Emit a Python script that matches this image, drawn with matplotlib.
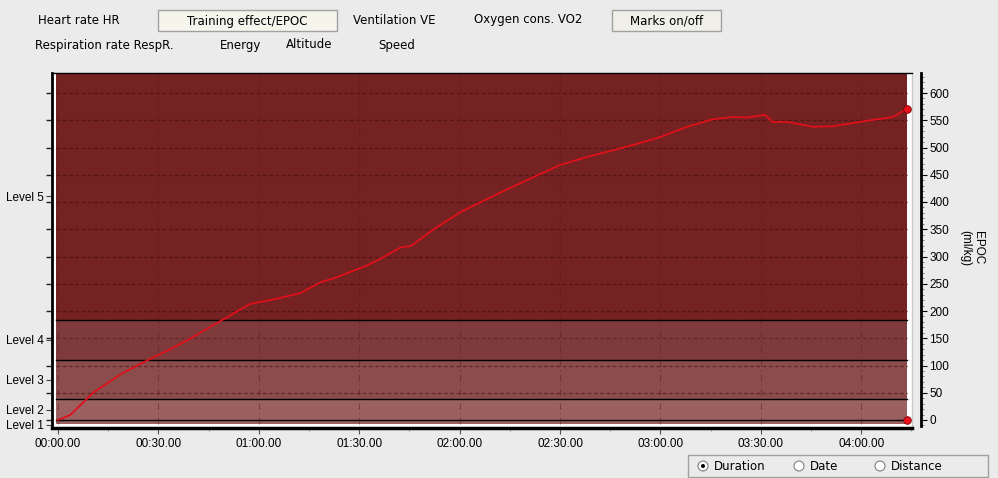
import matplotlib.pyplot as plt
from matplotlib.patches import Rectangle, Circle
from matplotlib.transforms import IdentityTransform
from matplotlib.ticker import MultipleLocator, FuncFormatter

# EPOC curve, time in minutes, EPOC in ml/kg
minutes = [0, 3.6, 10.5, 19, 27.5, 33, 39.4, 47.5, 57.4, 65, 72.5, 78.5, 82.4, 92.5,
           97, 102.4, 105.4, 112.3, 120.4, 132.4, 142.2, 150.0, 158.3, 165.9, 172,
           179.9, 188, 195.7, 201.7, 206, 211.3, 213.4, 217.9, 225.6, 231.6, 241.7,
           249.5, 253.7]
epoc = [0, 9, 50, 85, 112, 128, 149, 178, 213, 222, 233, 253, 260, 284,
        298, 317, 319, 350, 382, 418, 446, 468, 483, 495, 505,
        519, 538, 552, 556, 555, 560, 547, 547, 538, 539, 549,
        556, 571]

# training effect level bands (EPOC boundaries)
band_edges = [-7.3, 38.5, 110, 183.5, 635]
band_colors = ['#9b6161', '#8b4c4c', '#7f3b3b', '#742222']
band_lines = [0, 38.5, 110, 183.5]
level_names = ['Level 1', 'Level 2', 'Level 3', 'Level 4', 'Level 5']
level_pos = [-9, 19, 74, 147, 411]

x_ticks = [0, 30, 60, 90, 120, 150, 180, 210, 240]

top_row1 = [('Heart rate HR', 38), ('Ventilation VE', 353), ('Oxygen cons. VO2', 474)]
top_row2 = [('Respiration rate RespR.', 35), ('Energy', 220), ('Altitude', 286), ('Speed', 378)]
buttons = [('Training effect/EPOC', 158, 337, '#f5f5ec'), ('Marks on/off', 612, 721, '#f0f0e8')]
radios = [('Duration', 703, True), ('Date', 799, False), ('Distance', 880, False)]

W, H = 998, 478
bg = '#ebebeb'
plt.rcParams['font.family'] = ['Liberation Sans', 'DejaVu Sans']

fig = plt.figure(figsize=(W / 100, H / 100), dpi=100, facecolor=bg)


def fx(px):
    return px / W


def fy(py):
    return 1 - py / H


# main axes box in pixels: left 52, right 912, top 73, bottom 428
L, R, T, B = 52, 912, 73, 428
px_per_min = 100.4 / 30
xmin = -(58 - L) / px_per_min
xmax = xmin + (R - L) / px_per_min
ypx = 27.25 / 50
ymax = (420 - T) / ypx
ymin = (420 - B) / ypx

ax = fig.add_axes([fx(L), fy(B), fx(R - L), (B - T) / H])
ax.set_facecolor('white')
ax.set_xlim(xmin, xmax)
ax.set_ylim(ymin, ymax)

x0 = (56 - L) / (R - L)
x1 = (907 - L) / (R - L)
for i in range(len(band_colors)):
    ax.axhspan(band_edges[i], band_edges[i + 1], xmin=x0, xmax=x1,
               color=band_colors[i], lw=0, zorder=0)
for v in band_lines:
    ax.axhline(v, xmin=x0, xmax=x1, color='black', lw=1, zorder=2)

# grid
t_end = (907 - 58) / px_per_min
t_start = (56 - 58) / px_per_min
for v in range(50, 601, 50):
    c = '#561414' if v > 183.5 else '#6a2626'
    ax.plot([t_start, t_end], [v, v], color=c, lw=0.9, ls=(0, (3, 2)), zorder=1)
for t in x_ticks:
    ax.plot([t, t], [band_edges[0], band_edges[-1]], color='#5e1c1c', lw=0.8,
            ls=(0, (6, 3, 1, 3)), alpha=0.5, zorder=1)

ax.plot(minutes, epoc, color='#e0101a', lw=1.3, zorder=3)
ax.plot([minutes[-1], minutes[-1]], [epoc[-1], 0], 'o', color='#e8101a',
        mec='#800000', mew=0.6, ms=5.5, zorder=4, clip_on=False)

for s in ['left', 'top', 'bottom', 'right']:
    ax.spines[s].set_color('black')
ax.spines['left'].set_linewidth(2)
ax.spines['top'].set_linewidth(1)
ax.spines['bottom'].set_linewidth(2.5)
ax.spines['right'].set_color('#c8c8c8')
ax.spines['right'].set_linewidth(1)

ax.set_xticks(x_ticks)
ax.xaxis.set_minor_locator(MultipleLocator(15))
ax.xaxis.set_major_formatter(FuncFormatter(lambda v, p: '%02d:%02d.00' % (int(v) // 60, int(v) % 60)))
ax.tick_params(axis='x', which='major', length=4, width=0.8, color='#555555',
               labelsize=8.5, pad=3)
ax.tick_params(axis='x', which='minor', length=2, width=0.6, color='#888888')

ax.set_yticks(level_pos)
ax.set_yticklabels(level_names)
ax.yaxis.set_minor_locator(MultipleLocator(50))
ax.tick_params(axis='y', which='major', length=4, width=0.8, color='#444444',
               labelsize=8.5, pad=2)
ax.tick_params(axis='y', which='minor', length=4, width=1, color='#222222')

# right EPOC axis, separate line at x=921
ax2 = fig.add_axes([fx(921) - 0.001, fy(B), 0.001, (B - T) / H])
ax2.set_ylim(ymin, ymax)
ax2.patch.set_visible(False)
for s in ['left', 'top', 'bottom']:
    ax2.spines[s].set_visible(False)
ax2.spines['right'].set_linewidth(2)
ax2.spines['right'].set_bounds(ymin + 4, ymax)
ax2.set_xticks([])
ax2.yaxis.tick_right()
ax2.set_yticks(range(0, 601, 50))
ax2.yaxis.set_minor_locator(MultipleLocator(10))
ax2.tick_params(axis='y', which='major', length=4, width=0.8, labelsize=8.5, pad=2)
ax2.tick_params(axis='y', which='minor', length=2, width=0.6, color='#666666')

fig.text(fx(972), fy(248), 'EPOC\n(ml/kg)', rotation=-90, ha='center', va='center',
         fontsize=8.5, linespacing=1.1)

# top controls
for label, x in top_row1:
    fig.text(fx(x), fy(20), label, fontsize=8.5, va='center', family='DejaVu Sans')
for label, x in top_row2:
    fig.text(fx(x), fy(45), label, fontsize=8.5, va='center', family='DejaVu Sans')
for label, xa, xb, fc in buttons:
    fig.patches.append(Rectangle((fx(xa), fy(31)), fx(xb - xa), (31 - 10) / H,
                                 transform=fig.transFigure, facecolor=fc,
                                 edgecolor='#a0a0a0', lw=1))
    fig.text(fx((xa + xb) / 2), fy(21), label, fontsize=8.5, ha='center',
             va='center', family='DejaVu Sans')

# bottom radio group
fig.patches.append(Rectangle((fx(688), fy(477)), fx(300), 22 / H, transform=fig.transFigure,
                             facecolor=bg, edgecolor='#a0a0a0', lw=1))
for label, x, on in radios:
    fig.patches.append(Circle((x, H - 466), 5, transform=IdentityTransform(),
                              facecolor='white', edgecolor='#808080', lw=0.8))
    if on:
        fig.patches.append(Circle((x, H - 466), 2, transform=IdentityTransform(),
                                  facecolor='black', lw=0))
    fig.text(fx(x + 11), fy(466), label, fontsize=8.5, va='center', family='DejaVu Sans')

plt.savefig('out.png', dpi=100, facecolor=bg)
